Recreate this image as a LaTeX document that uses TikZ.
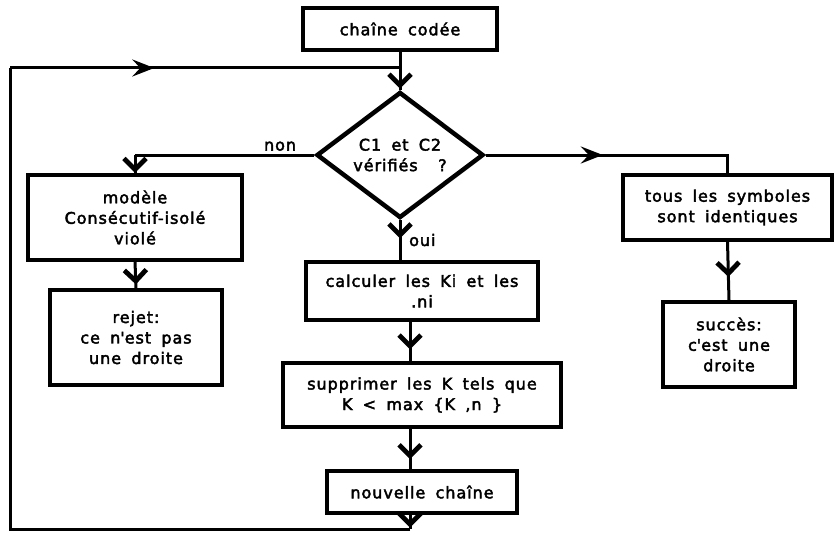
\documentclass[tikz,border=0pt]{standalone}
\usepackage{fontspec}
\setmainfont[LetterSpace=6,WordSpace=1.7,FakeBold=2.6]{DejaVu Sans}
\usetikzlibrary{arrows.meta,positioning,shapes.geometric,decorations.markings}

\begin{document}
\begin{tikzpicture}[
  x=1pt,
  y=-1pt,
  font=\fontsize{16}{20.5}\selectfont,
  stepbox/.style={
    draw,
    line width=3.2pt,
    align=center,
    inner sep=2pt
  },
  test/.style={
    diamond,
    draw,
    line width=4.5pt,
    align=center,
    aspect=1.33,
    minimum width=167pt,
    minimum height=126pt,
    inner sep=0pt
  },
  flow/.style={line width=3pt},
  vmark/.style={postaction={decorate},
    decoration={markings, mark=at position #1 with
      {\arrow{Straight Barb[length=11pt,width=22pt,line width=4.8pt]}}}},
  hmark/.style={postaction={decorate},
    decoration={markings, mark=at position #1 with
      {\arrow{Stealth[length=22pt,width=17pt,inset=8pt]}}}}
]
  \useasboundingbox (0,0) rectangle (834,532);

  % main column
  \node[stepbox,minimum width=194pt,minimum height=42pt] (code) at (400,29) {chaîne codée};
  \node[test] (check) at (400,155) {C1 et C2\\vérifiés\ \ ?};
  \node[stepbox,minimum width=232pt,minimum height=58pt] (calc) at (422,291)
    {calculer les Ki et les\\.ni};
  \node[stepbox,minimum width=278pt,minimum height=64pt] (supp) at (422,395)
    {supprimer les K tels que\\K < max \{K ,n \}};
  \node[stepbox,minimum width=190pt,minimum height=42pt] (newchain) at (422,492) {nouvelle chaîne};

  % left branch
  \node[stepbox,minimum width=214pt,minimum height=85pt] (model) at (135,217.5)
    {modèle\\Consécutif-isolé\\violé};
  \node[stepbox,minimum width=172pt,minimum height=95pt] (reject) at (136,337.5)
    {rejet:\\ce n\textquotesingle est pas\\une droite};

  % right branch
  \node[stepbox,minimum width=209pt,minimum height=65pt] (same) at (727.5,207.5)
    {tous les symboles\\sont identiques};
  \node[stepbox,minimum width=132pt,minimum height=85pt] (success) at (729,344.5)
    {succès:\\c\textquotesingle est une\\droite};

  % labels
  \node[anchor=south east,inner sep=1pt] (nolbl) at ([xshift=-17pt,yshift=3pt]check.west) {non};
  \node[anchor=west,inner sep=1pt] (yeslbl) at (408,240) {oui};

  % turns and loop corners
  \coordinate (axis) at (410,0);
  \coordinate (leftturn) at (check.west -| model.north);
  \coordinate (loopbr) at (410,529);
  \coordinate (loopbl) at (10,529);
  \coordinate (looptl) at (10,68);
  \coordinate (looptr) at (400,68);

  \draw[flow,vmark=0.97] (code.south) -- (check.north);
  \draw[flow,vmark=0.45] (check.south) -- (check.south |- calc.north);
  \draw[flow,vmark=0.7] (calc.south -| axis) -- (supp.north -| axis);
  \draw[flow,vmark=0.75] (supp.south -| axis) -- (newchain.north -| axis);
  \draw[flow] (check.west) -- (leftturn);
  \draw[flow,vmark=0.97] (leftturn) -- (model.north);
  \draw[flow,vmark=0.85] (model.south) -- (reject.north);
  \draw[flow,hmark=0.45] (check.east) -| (same.north);
  \draw[flow,vmark=0.6] (same.south) -- (success.north);
  \draw[flow,vmark=0.9] (newchain.south -| axis) -- (loopbr);
  \draw[flow] (loopbr) -- (loopbl) -- (looptl);
  \draw[flow,hmark=0.37] (looptl) -- (looptr);
\end{tikzpicture}
\end{document}
